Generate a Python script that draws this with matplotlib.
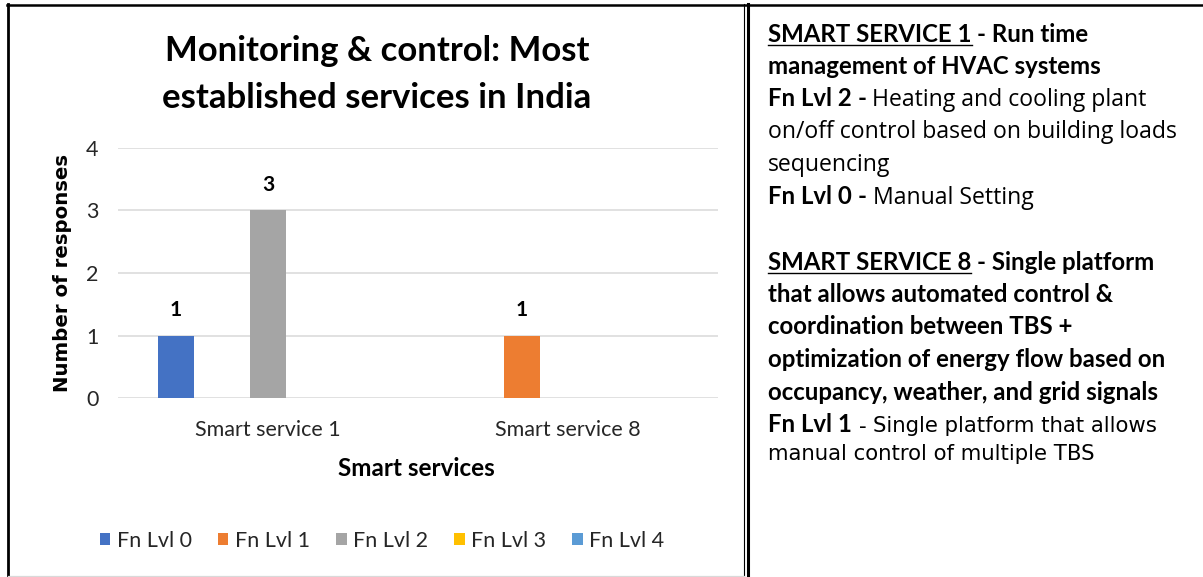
import matplotlib
matplotlib.use("Agg")
import matplotlib.pyplot as plt
import numpy as np
from matplotlib.lines import Line2D
from matplotlib.patches import Patch

# ---------------- data ----------------
categories = ["Smart service 1", "Smart service 8"]
levels = ["Fn Lvl 0", "Fn Lvl 1", "Fn Lvl 2", "Fn Lvl 3", "Fn Lvl 4"]
lvl0 = [1, 0]
lvl1 = [0, 1]
lvl2 = [3, 0]
lvl3 = [0, 0]
lvl4 = [0, 0]
series = [lvl0, lvl1, lvl2, lvl3, lvl4]
colors = ["#4472C4", "#ED7D31", "#A5A5A5", "#FFC000", "#5B9BD5"]
yticks = [0, 1, 2, 3, 4]
title_lines = ["Monitoring & control: Most", "established services in India"]
ylabel = "Number of responses"
xlabel = "Smart services"

W, H = 1203, 577
fig = plt.figure(figsize=(W / 100, H / 100), dpi=100)
fig.patch.set_facecolor("white")

def fx(x):
    return x / W

def fy(y):
    return 1 - y / H

CAL = "Lato"

# ---------------- axes ----------------
ax_l, ax_r, ax_t, ax_b = 118, 718, 148, 398
ax = fig.add_axes([fx(ax_l), fy(ax_b), (ax_r - ax_l) / W, (ax_b - ax_t) / H])
n = len(series)
slot = 0.1533
bw = 0.123
x = np.arange(len(categories))
for i, (vals, c) in enumerate(zip(series, colors)):
    pos = x + (i - (n - 1) / 2) * slot
    ax.bar(pos, vals, width=bw, color=c, zorder=3)
    for p, v in zip(pos, vals):
        if v:
            ax.annotate(str(v), (p, v), xytext=(0, 18), textcoords="offset points",
                        ha="center", va="center", fontsize=15, fontweight="bold",
                        family=CAL)
ax.set_xlim(-0.5, 1.5)
ax.set_ylim(0, 4)
ax.set_yticks(yticks)
ax.set_xticks(x)
ax.set_xticklabels(categories)
ax.grid(axis="y", color="#D9D9D9", linewidth=1.1, zorder=0)
for s in ax.spines.values():
    s.set_visible(False)
ax.tick_params(axis="both", length=0, labelsize=15.5, colors="#000000")
ax.tick_params(axis="y", pad=14)
ax.tick_params(axis="x", pad=16)
for lab in ax.get_xticklabels() + ax.get_yticklabels():
    lab.set_family(CAL)
    lab.set_color("#262626")

fig.text(fx(377), fy(61), title_lines[0], ha="center", va="baseline", fontsize=25,
         fontweight="bold", family=CAL)
fig.text(fx(377), fy(108), title_lines[1], ha="center", va="baseline", fontsize=25,
         fontweight="bold", family=CAL)
fig.text(fx(62), fy(273), ylabel, ha="center", va="center", rotation=90,
         fontsize=14.2, fontweight="bold", family="DejaVu Sans")
fig.text(fx(416), fy(468), xlabel, ha="center", va="center", fontsize=17.5,
         fontweight="bold", family=CAL)

handles = [Patch(facecolor=c, edgecolor="none") for c in colors]
fig.legend(handles, levels, loc="center", bbox_to_anchor=(fx(382), fy(541)),
           ncol=5, frameon=False, prop={"family": CAL, "size": 15.5},
           handlelength=0.5, handleheight=0.5, handletextpad=0.3,
           columnspacing=1.2, labelcolor="#262626")

# ---------------- frame lines ----------------
def hline(y, x0, x1, lw, c="black"):
    fig.add_artist(Line2D([fx(x0), fx(x1)], [fy(y), fy(y)], color=c, lw=lw,
                          transform=fig.transFigure))

def vline(xx, y0, y1, lw, c="black"):
    fig.add_artist(Line2D([fx(xx), fx(xx)], [fy(y0), fy(y1)], color=c, lw=lw,
                          transform=fig.transFigure))

hline(5, 7, 1203, 1.8)
vline(8, 4, 577, 2.0)
vline(744, 4, 577, 0.8)
vline(748, 4, 577, 2.2)
hline(576, 8, 744, 0.9, "#D9D9D9")

# ---------------- right panel text ----------------
fig.canvas.draw()
renderer = fig.canvas.get_renderer()

def tw(s, **kw):
    t = fig.text(0, 0, s, **kw)
    w = t.get_window_extent(renderer).width
    t.remove()
    return w

def runs(x0, ybase, parts):
    xx = x0
    for s, weight, fam, size, ul in parts:
        kw = dict(fontsize=size, fontweight=weight, family=fam)
        lead = len(s) - len(s.lstrip(" "))
        sp = tw("n n", **kw) - tw("nn", **kw)
        xx += lead * sp
        core = s.strip(" ")
        t = fig.text(fx(xx), fy(ybase), core, ha="left", va="baseline", **kw)
        w = t.get_window_extent(renderer).width
        if ul:
            hline(ybase + 3, xx, xx + w, 1.0)
        xx += w
        trail = len(s) - len(s.rstrip(" "))
        xx += trail * sp

BS = 17.3
RS = 16.6
VS = 15.3
B = "bold"
N = "normal"
REG = "Open Sans"
VER = "DejaVu Sans"
x0 = 768
runs(x0, 41.5, [("SMART SERVICE 1", B, CAL, BS, True), (" - Run time", B, CAL, BS, False)])
runs(x0, 74, [("management of HVAC systems", B, CAL, BS, False)])
runs(x0, 106.5, [("Fn Lvl 2", B, CAL, BS, False), (" - ", B, CAL, BS, False),
                 ("Heating and cooling plant", N, REG, RS, False)])
runs(x0, 138.5, [("on/off control based on building loads", N, REG, RS, False)])
runs(x0, 171, [("sequencing", N, REG, RS, False)])
runs(x0, 203.5, [("Fn Lvl 0", B, CAL, BS, False), (" - ", B, CAL, BS, False),
                 ("Manual Setting", N, REG, RS, False)])
runs(x0, 270, [("SMART SERVICE 8", B, CAL, BS, True),
               (" - Single platform", B, CAL, BS, False)])
runs(x0, 302, [("that allows automated control &", B, CAL, BS, False)])
runs(x0, 334.5, [("coordination between TBS +", B, CAL, BS, False)])
runs(x0, 367, [("optimization of energy flow based on", B, CAL, BS, False)])
runs(x0, 399.5, [("occupancy, weather, and grid signals", B, CAL, BS, False)])
runs(x0, 432.5, [("Fn Lvl 1", B, CAL, BS, False), (" - ", N, VER, VS, False),
                 ("Single platform that allows", N, VER, VS, False)])
runs(x0, 460.5, [("manual control of multiple TBS", N, VER, VS, False)])

fig.savefig("out.png", dpi=100, facecolor="white")
